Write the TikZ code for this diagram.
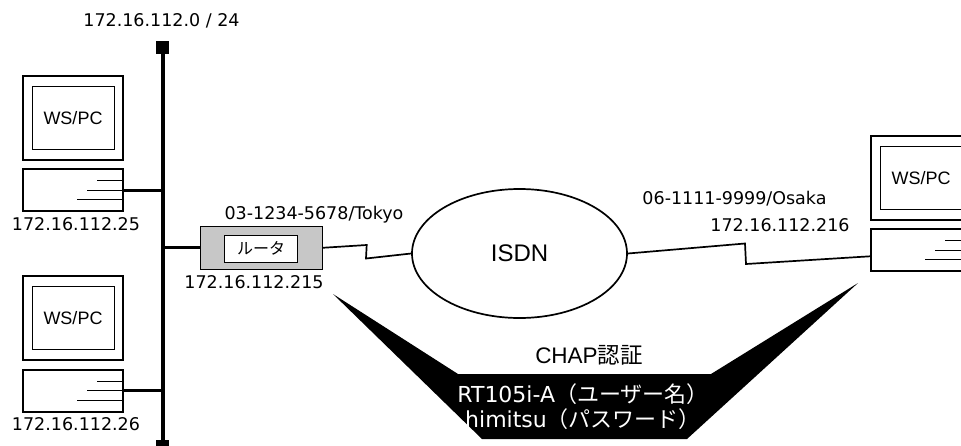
\documentclass[tikz,border=0pt]{standalone}
\usepackage{fontspec}
\usetikzlibrary{shapes.geometric}
\setmainfont{Liberation Sans}
\newfontfamily\numfont{DejaVu Sans}
\newfontfamily\cjk{Noto Sans CJK JP}
\tikzset{
  monitor/.style={draw, line width=2pt, minimum width=100pt, minimum height=84pt, inner sep=0pt},
  screen/.style={draw, line width=1pt, minimum width=82pt, minimum height=63pt, inner sep=0pt, font=\fontsize{18}{20}\selectfont},
  basebox/.style={draw, line width=2pt, minimum width=100pt, minimum height=42pt, inner sep=0pt},
  addr/.style={inner sep=0pt, font=\numfont\fontsize{17.5}{19}\selectfont},
  busend/.style={fill, minimum size=13pt, inner sep=0pt},
  stub/.style={line width=1pt},
  wire/.style={line width=1.7pt},
  branch/.style={line width=3pt}
}
\begin{document}
\begin{tikzpicture}[x=1pt, y=-1pt]
  \useasboundingbox (0, 0) rectangle (961, 445);
  \node[addr] (net) at (161.5, 20.7) {172.16.112.0 / 24};
  \node[busend] (bustop) at (162.5, 47.5) {};
  \node[busend] (busbot) at (162.5, 446.5) {};
  \draw[line width=4pt] (bustop) -- (busbot);
  % left hosts
  \foreach \n/\ya/\last in {1/117.8/25, 2/318.3/26} {
    \node[monitor] (mon\n) at (73, \ya) {};
    \node[screen] (scr\n) at (mon\n) {WS/PC};
    \node[basebox, anchor=north] (base\n) at ([yshift=-7.5pt]mon\n.south) {};
    \draw[stub] ([yshift=9.5pt]base\n.east) -- ++(-27, 0);
    \draw[stub] (base\n.east) -- ++(-37, 0);
    \draw[stub] ([yshift=-9.5pt]base\n.east) -- ++(-47, 0);
    \draw[branch] (base\n.east) -- (base\n.east -| bustop);
    \node[addr] (ip\n) at ([xshift=3pt, yshift=-11.5pt]base\n.south) {172.16.112.\last};
  }
  % router
  \node[draw, line width=1pt, fill=black!22, minimum width=122pt, minimum height=43pt, inner sep=0pt] (router) at (261, 247.8) {};
  \node[draw, line width=1pt, fill=white, minimum width=73pt, minimum height=27pt, inner sep=0pt, font=\cjk\fontsize{16}{18}\selectfont] (rname) at (261, 248.8) {ルータ};
  \draw[branch] (router.west) -- (router.west -| bustop);
  \node[addr] (rtel) at (314, 215) {03-1234-5678/Tokyo};
  \node[addr] (rip) at (254, 281.7) {172.16.112.215};
  % ISDN
  \node[draw, ellipse, line width=1.7pt, minimum width=215pt, minimum height=129pt, inner sep=0pt, font=\fontsize{24}{26}\selectfont] (isdn) at (519.5, 253.5) {ISDN};
  \coordinate (j1) at (366.7, 245);
  \coordinate (j2) at (366, 258.5);
  \draw[wire] (router.east) -- (j1) -- (j2) -- (isdn.west);
  % right host
  \node[monitor] (mon3) at (921, 177.8) {};
  \node[screen] (scr3) at (mon3) {WS/PC};
  \node[basebox, anchor=north] (base3) at ([yshift=-7.5pt]mon3.south) {};
  \draw[stub] ([yshift=9.5pt]base3.east) -- ++(-27, 0);
  \draw[stub] (base3.east) -- ++(-37, 0);
  \draw[stub] ([yshift=-9.5pt]base3.east) -- ++(-47, 0);
  \coordinate (j3) at (745, 243.5);
  \coordinate (j4) at (746, 264);
  \draw[wire] (isdn.east) -- (j3) -- (j4) -- ([yshift=-6pt]base3.west);
  \node[addr] (stel) at (734.5, 199) {06-1111-9999/Osaka};
  \node[addr] (sip) at (780, 225) {172.16.112.216};
  % authentication
  \fill (333, 294) -- (458, 374) -- (711, 374) -- (858, 283) -- (687, 439) -- (482, 439) -- cycle;
  \node[inner sep=0pt, font=\fontsize{22.5}{25}\selectfont] (chap) at (589, 355.5) {CHAP{\cjk 認証}};
  \node[inner sep=0pt, text=white, align=center, font=\numfont\fontsize{22}{25}\selectfont] (cred) at (583, 406.5) {RT105i-A{\cjk（ユーザー名）}\\himitsu{\cjk（パスワード）}};
\end{tikzpicture}
\end{document}
